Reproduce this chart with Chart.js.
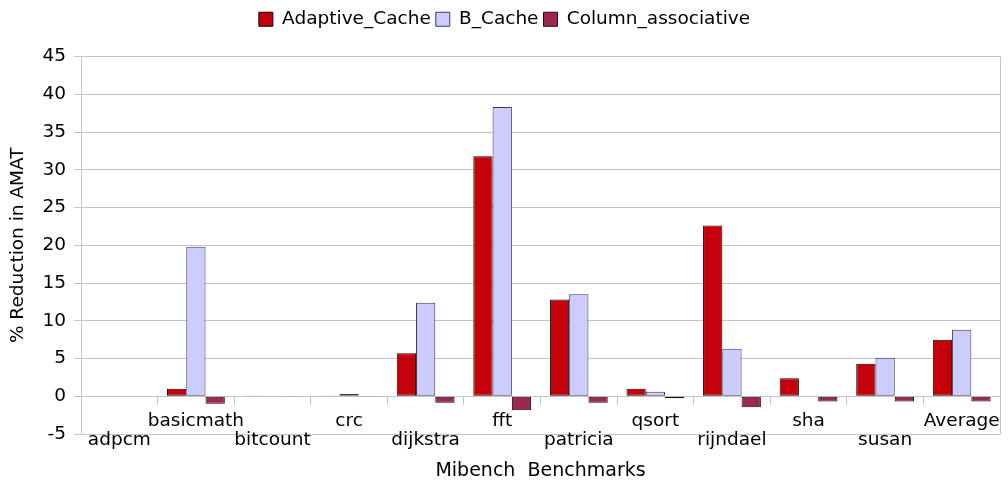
<!DOCTYPE html>
<html>
<head>
<meta charset="utf-8">
<script src="https://cdn.jsdelivr.net/npm/chart.js@4"></script>
<style>
  html, body { margin: 0; padding: 0; background: #fff; }
</style>
</head>
<body>
<canvas id="chart" width="1008" height="482"></canvas>
<script>
// Mibench AMAT reduction per benchmark, three cache schemes

const benchmarks = ['adpcm', 'basicmath', 'bitcount', 'crc', 'dijkstra', 'fft', 'patricia',
  'qsort', 'rijndael', 'sha', 'susan', 'Average'];
const adaptiveCache = [0, 1.0, 0.1, 0.1, 5.7, 31.8, 12.8, 1.0, 22.6, 2.4, 4.3, 7.5];
const bCache = [0, 19.8, 0, 0.3, 12.4, 38.3, 13.5, 0.6, 6.3, 0.1, 5.1, 8.8];
const columnAssoc = [0, -1.0, -0.1, -0.1, -0.85, -1.85, -0.85, -0.25, -1.45, -0.7, -0.7, -0.7];
const yTicks = { min: -5, max: 45, step: 5 };

const FONT = 'DejaVu Sans';
const gridGray = '#c4c4c4';

// thin frame line on the right side of the plot
const rightEdge = {
  id: 'rightEdge',
  afterDraw(chart) {
    const { ctx, chartArea: a } = chart;
    ctx.save();
    ctx.strokeStyle = gridGray;
    ctx.lineWidth = 1;
    ctx.beginPath();
    ctx.moveTo(Math.round(a.right) + 0.5, a.top);
    ctx.lineTo(Math.round(a.right) + 0.5, a.bottom);
    ctx.stroke();
    ctx.restore();
  }
};

// extra room between the legend and the plot
const legendGap = {
  id: 'legendGap',
  beforeInit(chart) {
    const fit = chart.legend.fit;
    chart.legend.fit = function () {
      fit.call(this);
      this.height += 18;
    };
  }
};

new Chart(document.getElementById('chart'), {
  type: 'bar',
  data: {
    labels: benchmarks,
    datasets: [
      { label: 'Adaptive_Cache', data: adaptiveCache, backgroundColor: '#c4000b', borderColor: '#1a0000', borderWidth: 1, borderSkipped: false },
      { label: 'B_Cache', data: bCache, backgroundColor: '#ccccff', borderColor: '#3a3a58', borderWidth: 1, borderSkipped: false },
      { label: 'Column_associative', data: columnAssoc, backgroundColor: '#9b2850', borderColor: '#2a0010', borderWidth: 1, borderSkipped: false },
    ]
  },
  options: {
    responsive: false,
    animation: false,
    layout: { padding: { left: 9, right: 8, top: 5, bottom: 48 } },
    datasets: { bar: { categoryPercentage: 0.755, barPercentage: 1.0 } },
    plugins: {
      legend: {
        position: 'top',
        labels: {
          font: { family: FONT, size: 18.5 },
          color: '#000',
          boxWidth: 14,
          boxHeight: 14,
          padding: 5
        }
      },
      tooltip: { enabled: false }
    },
    scales: {
      x: {
        position: { y: 0 },
        grid: { offset: true, drawOnChartArea: false, drawTicks: true, tickLength: 8, color: gridGray },
        border: { display: true, color: gridGray },
        ticks: {
          autoSkip: false,
          maxRotation: 0,
          padding: 7,
          color: '#000',
          font: { family: FONT, size: 18.5, lineHeight: 1.05 },
          // alternate rows so the names don't collide
          callback: (v, i) => i % 2 === 0 ? ['', benchmarks[i]] : benchmarks[i]
        },
        title: {
          display: true,
          text: 'Mibench  Benchmarks',
          color: '#000',
          font: { family: FONT, size: 19, lineHeight: 1 },
          padding: { top: 4, bottom: 0 }
        }
      },
      y: {
        min: yTicks.min,
        max: yTicks.max,
        ticks: { stepSize: yTicks.step, color: '#000', padding: 8, font: { family: FONT, size: 18.5 } },
        grid: { color: gridGray, tickLength: 7 },
        border: { display: true, color: gridGray },
        title: {
          display: true,
          text: '% Reduction in AMAT',
          color: '#000',
          font: { family: FONT, size: 18.5, lineHeight: 1 },
          padding: { top: 0, bottom: 7 }
        }
      }
    }
  },
  plugins: [rightEdge, legendGap]
});
</script>
</body>
</html>
